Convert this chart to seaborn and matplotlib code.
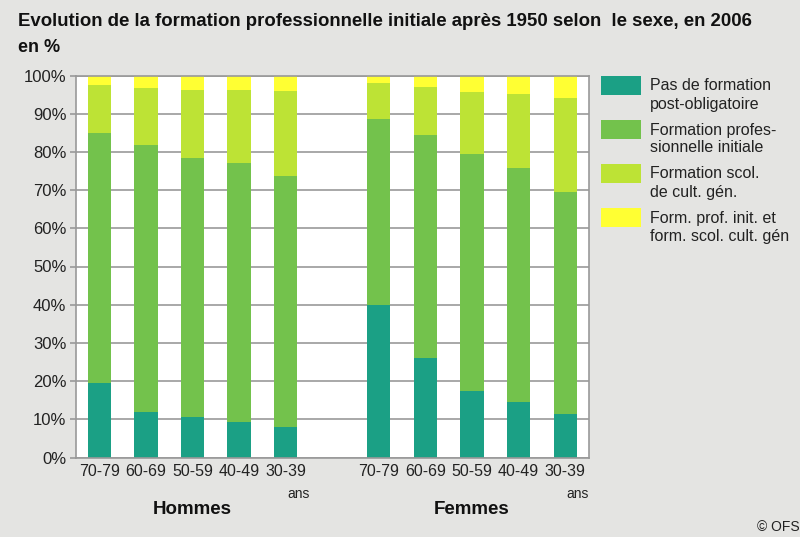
import matplotlib
matplotlib.use("Agg")
import matplotlib.pyplot as plt
import matplotlib.transforms as mtransforms
from matplotlib.patches import Rectangle
import seaborn as sns
import pandas as pd

# ---------------- data ----------------
groups = ["Hommes", "Femmes"]
ages = ["70-79", "60-69", "50-59", "40-49", "30-39"]
series = [
    "Pas de formation\npost-obligatoire",
    "Formation profes-\nsionnelle initiale",
    "Formation scol.\nde cult. gén.",
    "Form. prof. init. et\nform. scol. cult. gén",
]
pas_formation = {"Hommes": [19.5, 12.0, 10.5, 9.3, 8.0],
                 "Femmes": [40.0, 26.1, 17.5, 14.6, 11.3]}
form_prof = {"Hommes": [65.4, 69.9, 67.8, 67.8, 65.7],
             "Femmes": [48.6, 58.4, 62.0, 61.2, 58.3]}
form_scol = {"Hommes": [12.7, 14.8, 18.0, 19.2, 22.2],
             "Femmes": [9.4, 12.6, 16.1, 19.3, 24.6]}
form_both = {"Hommes": [2.4, 3.3, 3.7, 3.7, 4.1],
             "Femmes": [2.0, 2.9, 4.4, 4.9, 5.8]}
yticks = [0, 10, 20, 30, 40, 50, 60, 70, 80, 90, 100]
colors = ["#1ba085", "#73c24c", "#bde335", "#ffff33"]

# ---------------- build table ----------------
rows = []
for g in groups:
    for i, a in enumerate(ages):
        vals = [pas_formation[g][i], form_prof[g][i], form_scol[g][i], form_both[g][i]]
        cum = 0
        for s, v in zip(series, vals):
            cum += v
            rows.append({"slot": f"{g}|{a}", "group": g, "age": a,
                         "series": s, "cum": cum})
df = pd.DataFrame(rows)
order = [f"Hommes|{a}" for a in ages] + ["gap"] + [f"Femmes|{a}" for a in ages]

# ---------------- figure ----------------
sns.set_theme(style="white")
plt.rcParams["font.family"] = ["Liberation Sans", "DejaVu Sans"]
bg = "#e4e4e2"
W, H = 800, 537
fig = plt.figure(figsize=(8, 5.37), dpi=100, facecolor=bg)
L, R, T, B = 76, 588.5, 75.5, 457.5
ax = fig.add_axes([L / W, 1 - B / H, (R - L) / W, (B - T) / H])
ax.set_facecolor("white")

# draw stacked bars from the top layer downwards
for s, c in reversed(list(zip(series, colors))):
    sub = df[df["series"] == s]
    sns.barplot(data=sub, x="slot", y="cum", order=order, color=c,
                saturation=1, width=0.5, errorbar=None, linewidth=0, ax=ax)

ax.set_xlim(-0.5, len(order) - 0.5)
ax.set_ylim(0, 100)
ax.set_xlabel("")
ax.set_ylabel("")
ax.set_yticks(yticks)
ax.set_yticklabels([f"{v}%" for v in yticks], fontsize=12, color="#222222")
pos = [i for i, o in enumerate(order) if o != "gap"]
ax.set_xticks(pos)
ax.set_xticklabels(ages * 2, fontsize=11.5, color="#222222")
ax.tick_params(axis="x", length=0, pad=5)
ax.tick_params(axis="y", length=4, width=1.2, color="#999999", pad=3, left=True)
ax.yaxis.grid(True, color="#999999", linewidth=1.2)
ax.set_axisbelow(True)
for sp in ax.spines.values():
    sp.set_color("#999999")
    sp.set_linewidth(1.2)
    sp.set_visible(True)

def fy(py):
    return 1 - py / H

def fx(px):
    return px / W

# "ans" under last ticks
trans = mtransforms.blended_transform_factory(ax.transData, fig.transFigure)
ax.text(4.27, fy(494), "ans", transform=trans, ha="center", va="center",
        fontsize=10, color="#222222")
ax.text(10.27, fy(494), "ans", transform=trans, ha="center", va="center",
        fontsize=10, color="#222222")
ax.text(2, fy(509), "Hommes", transform=trans, ha="center", va="center",
        fontsize=13.5, fontweight="bold", color="#111111")
ax.text(8, fy(509), "Femmes", transform=trans, ha="center", va="center",
        fontsize=13.5, fontweight="bold", color="#111111")

# title
fig.text(fx(18), fy(22), "Evolution de la formation professionnelle initiale après 1950 selon  le sexe, en 2006",
         ha="left", va="center", fontsize=13.4, fontweight="bold", color="#111111")
fig.text(fx(18), fy(47), "en %", ha="left", va="center", fontsize=13,
         fontweight="bold", color="#111111")

# legend
tops = [76, 120, 164, 208]
for s, c, t in zip(series, colors, tops):
    fig.add_artist(Rectangle((fx(601), fy(t + 19)), 40 / W, 19 / H,
                             transform=fig.transFigure, facecolor=c,
                             edgecolor="none"))
    l1, l2 = s.split("\n")
    fig.text(fx(650), fy(t + 10), l1, ha="left", va="center", fontsize=11.5,
             color="#222222")
    fig.text(fx(650), fy(t + 28), l2, ha="left", va="center", fontsize=11.5,
             color="#222222")

fig.text(fx(757), fy(527), "© OFS", ha="left", va="center", fontsize=10,
         color="#222222")

fig.savefig("out.png", dpi=100, facecolor=bg)
